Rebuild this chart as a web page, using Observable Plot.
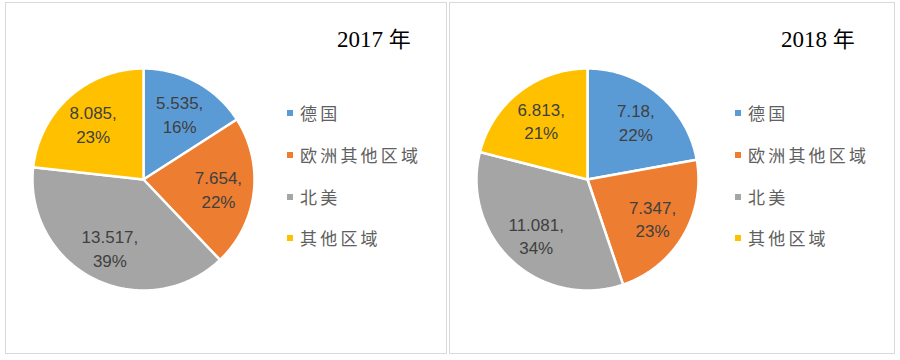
<!DOCTYPE html>
<html><head><meta charset="utf-8">
<script src="https://cdn.jsdelivr.net/npm/d3@7"></script>
<script src="https://cdn.jsdelivr.net/npm/@observablehq/plot@0.6"></script>
<style>
html,body{margin:0;padding:0;background:#fff;}
#root{position:relative;width:900px;height:360px;overflow:hidden;background:#fff;}
.panel{position:absolute;top:2px;height:350px;border:1px solid #d9d9d9;}
.panel svg{position:absolute;left:0;top:0;}
.title{position:absolute;top:20px;left:331px;font-family:"Liberation Serif","DejaVu Serif",serif;font-size:23px;line-height:28px;color:#000;white-space:nowrap;}
.title .cjk{font-family:"Noto Sans CJK SC",sans-serif;font-size:22px;}
.legend{position:absolute;top:0;font-family:"Noto Sans CJK SC",sans-serif;font-size:17px;color:#606060;letter-spacing:3.2px;}
.item{position:absolute;left:0;white-space:nowrap;height:24px;line-height:24px;}
.sw{position:absolute;width:6px;height:6px;top:9px;left:0;}
.item .t{position:absolute;left:13px;top:0;}
</style></head><body><div id="root"></div>
<script>
const categories = ["德国", "欧洲其他区域", "北美", "其他区域"];
const values2017 = [5.535, 7.654, 13.517, 8.085];
const values2018 = [7.18, 7.347, 11.081, 6.813];
const years = ["2017", "2018"];
const colors = ["#5B9BD5", "#ED7D31", "#A5A5A5", "#FFC000"];

const W = 440, H = 350, R = 111, CX = 137, CY = 176;

function piePlot(values) {
  const arcs = d3.pie().sort(null)(values);
  const total = d3.sum(values);
  const poly = [];
  arcs.forEach((a, i) => {
    const n = Math.max(4, Math.ceil((a.endAngle - a.startAngle) / 0.01));
    poly.push({cat: categories[i], x: 0, y: 0});
    for (let k = 0; k <= n; k++) {
      const t = a.startAngle + (a.endAngle - a.startAngle) * k / n;
      poly.push({cat: categories[i], x: Math.sin(t), y: Math.cos(t)});
    }
    poly.push({cat: categories[i], x: 0, y: 0});
  });
  const labels = arcs.map((a, i) => {
    const m = (a.startAngle + a.endAngle) / 2;
    return {x: 0.68 * Math.sin(m), y: 0.68 * Math.cos(m),
      text: `${values[i]},\n${Math.round(values[i] / total * 100)}%`};
  });
  return Plot.plot({
    width: W, height: H, margin: 0,
    x: {axis: null, domain: [-CX / R, (W - CX) / R]},
    y: {axis: null, domain: [-(H - CY) / R, CY / R]},
    color: {domain: categories, range: colors},
    marks: [
      Plot.line(poly, {x: "x", y: "y", z: "cat", fill: "cat", stroke: "white", strokeWidth: 2.5, strokeLinejoin: "round"}),
      Plot.text(labels, {x: "x", y: "y", text: "text", fill: "#404040", fontSize: 17, lineHeight: 1.4, fontFamily: "Liberation Sans, Arial, sans-serif"})
    ]
  });
}

function panel(left, width, year, values, legendLeft) {
  const div = document.createElement("div");
  div.className = "panel";
  div.style.left = left + "px";
  div.style.width = width + "px";
  div.appendChild(piePlot(values));
  const title = document.createElement("div");
  title.className = "title";
  title.innerHTML = `${year} <span class="cjk">年</span>`;
  div.appendChild(title);
  const lg = document.createElement("div");
  lg.className = "legend";
  lg.style.left = legendLeft + "px";
  const rowTops = [98, 140, 182, 223];
  categories.forEach((c, i) => {
    const it = document.createElement("div");
    it.className = "item";
    it.style.top = rowTops[i] + "px";
    it.innerHTML = `<span class="sw" style="background:${colors[i]}"></span><span class="t">${c}</span>`;
    lg.appendChild(it);
  });
  div.appendChild(lg);
  return div;
}

const root = document.getElementById("root");
root.appendChild(panel(5, 440, years[0], values2017, 281));
root.appendChild(panel(449, 444, years[1], values2018, 285));
</script></body></html>
